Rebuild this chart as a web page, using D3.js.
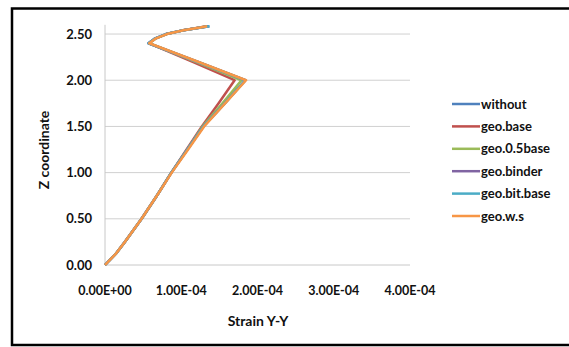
<!DOCTYPE html>
<html><head><meta charset="utf-8">
<script src="https://cdn.jsdelivr.net/npm/d3@7"></script>
<style>body{margin:0;background:#fff}svg{display:block}text{font-family:Lato,"Open Sans",sans-serif;font-weight:bold;fill:#111}</style>
</head><body>
<script>
const zCoord = [0, 0.12, 0.25, 0.5, 0.75, 1.0, 1.25, 1.5, 1.75, 2.0, 2.2, 2.4, 2.45, 2.5, 2.54, 2.57, 2.585];
const seriesNames = ["without","geo.base","geo.0.5base","geo.binder","geo.bit.base","geo.w.s"];
const seriesColors = ["#4F81BD","#C0504D","#9BBB59","#8064A2","#4BACC6","#F79646"];
const without    = [0,0.14,0.26,0.48,0.68,0.87,1.08,1.29,1.57,1.84,1.21,0.57,0.65,0.80,1.03,1.26,1.37];
const geoBase    = [0,0.14,0.26,0.48,0.68,0.87,1.07,1.27,1.49,1.70,1.15,0.58,0.66,0.81,1.02,1.24,1.33];
const geo05Base  = [0,0.14,0.26,0.48,0.68,0.87,1.08,1.28,1.54,1.79,1.19,0.58,0.66,0.81,1.03,1.25,1.34];
const geoBinder  = [0,0.14,0.26,0.48,0.68,0.87,1.08,1.29,1.57,1.84,1.21,0.57,0.65,0.80,1.03,1.26,1.36];
const geoBitBase = [0,0.14,0.26,0.48,0.68,0.87,1.08,1.29,1.57,1.84,1.21,0.57,0.65,0.80,1.03,1.26,1.37];
const geoWs      = [0,0.14,0.26,0.48,0.68,0.875,1.09,1.30,1.575,1.85,1.22,0.58,0.66,0.81,1.03,1.25,1.34];
const seriesValues = [without, geoBase, geo05Base, geoBinder, geoBitBase, geoWs]; // ×1e-4
const xTicks = [0, 1e-4, 2e-4, 3e-4, 4e-4];
const xTickLabels = ["0.00E+00","1.00E-04","2.00E-04","3.00E-04","4.00E-04"];
const yTicks = [0, 0.5, 1.0, 1.5, 2.0, 2.5];
const yTickLabels = ["0.00","0.50","1.00","1.50","2.00","2.50"];

const W = 569, H = 347;
const svg = d3.select("body").append("svg").attr("width", W).attr("height", H);
svg.append("rect").attr("x",12).attr("y",8.5).attr("width",600).attr("height",336.5)
  .attr("fill","none").attr("stroke","#000").attr("stroke-width",2.5);

const x = d3.scaleLinear().domain([0, 4e-4]).range([105, 410]);
const y = d3.scaleLinear().domain([0, 2.6]).range([265, 24.8]);

svg.append("g").selectAll("line").data(yTicks.slice(1)).join("line")
  .attr("x1", x(0)).attr("x2", x(4e-4)).attr("y1", d=>y(d)).attr("y2", d=>y(d))
  .attr("stroke","#d0d0d0").attr("stroke-width",1);

svg.append("line").attr("x1",x(0)).attr("x2",x(0)).attr("y1",y(2.6)).attr("y2",y(0))
  .attr("stroke","#c8c8c8").attr("stroke-width",1);
svg.append("line").attr("x1",x(0)).attr("x2",x(4e-4)).attr("y1",y(0)).attr("y2",y(0))
  .attr("stroke","#c8c8c8").attr("stroke-width",1);

svg.append("g").selectAll("text").data(yTicks).join("text")
  .attr("x", 92).attr("y", d=>y(d)+4.5).attr("text-anchor","end").attr("font-size",13)
  .text((d,i)=>yTickLabels[i]);
svg.append("g").selectAll("text").data(xTicks).join("text")
  .attr("x", d=>x(d)).attr("y", 295).attr("text-anchor","middle").attr("font-size",12.5)
  .text((d,i)=>xTickLabels[i]);

svg.append("text").attr("x",258).attr("y",326).attr("text-anchor","middle").attr("font-size",14).text("Strain Y-Y");
svg.append("text").attr("transform","translate(49,150) rotate(-90)").attr("text-anchor","middle").attr("font-size",14).text("Z coordinate");

const line = d3.line().x(d=>x(d[0]*1e-4)).y(d=>y(d[1]));
seriesValues.forEach((vals, i) => {
  svg.append("path").datum(vals.map((v,j)=>[v, zCoord[j]]))
    .attr("d", line).attr("fill","none").attr("stroke", seriesColors[i])
    .attr("stroke-width", 2.5).attr("stroke-linejoin","round");
});

const lg = svg.append("g").selectAll("g").data(seriesNames).join("g")
  .attr("transform",(d,i)=>`translate(452,${104 + i*22.4})`);
lg.append("line").attr("x1",0).attr("x2",28).attr("y1",0).attr("y2",0)
  .attr("stroke",(d,i)=>seriesColors[i]).attr("stroke-width",2.5);
lg.append("text").attr("x",29).attr("y",4.5).attr("font-size",13).text(d=>d);
</script>
</body></html>
